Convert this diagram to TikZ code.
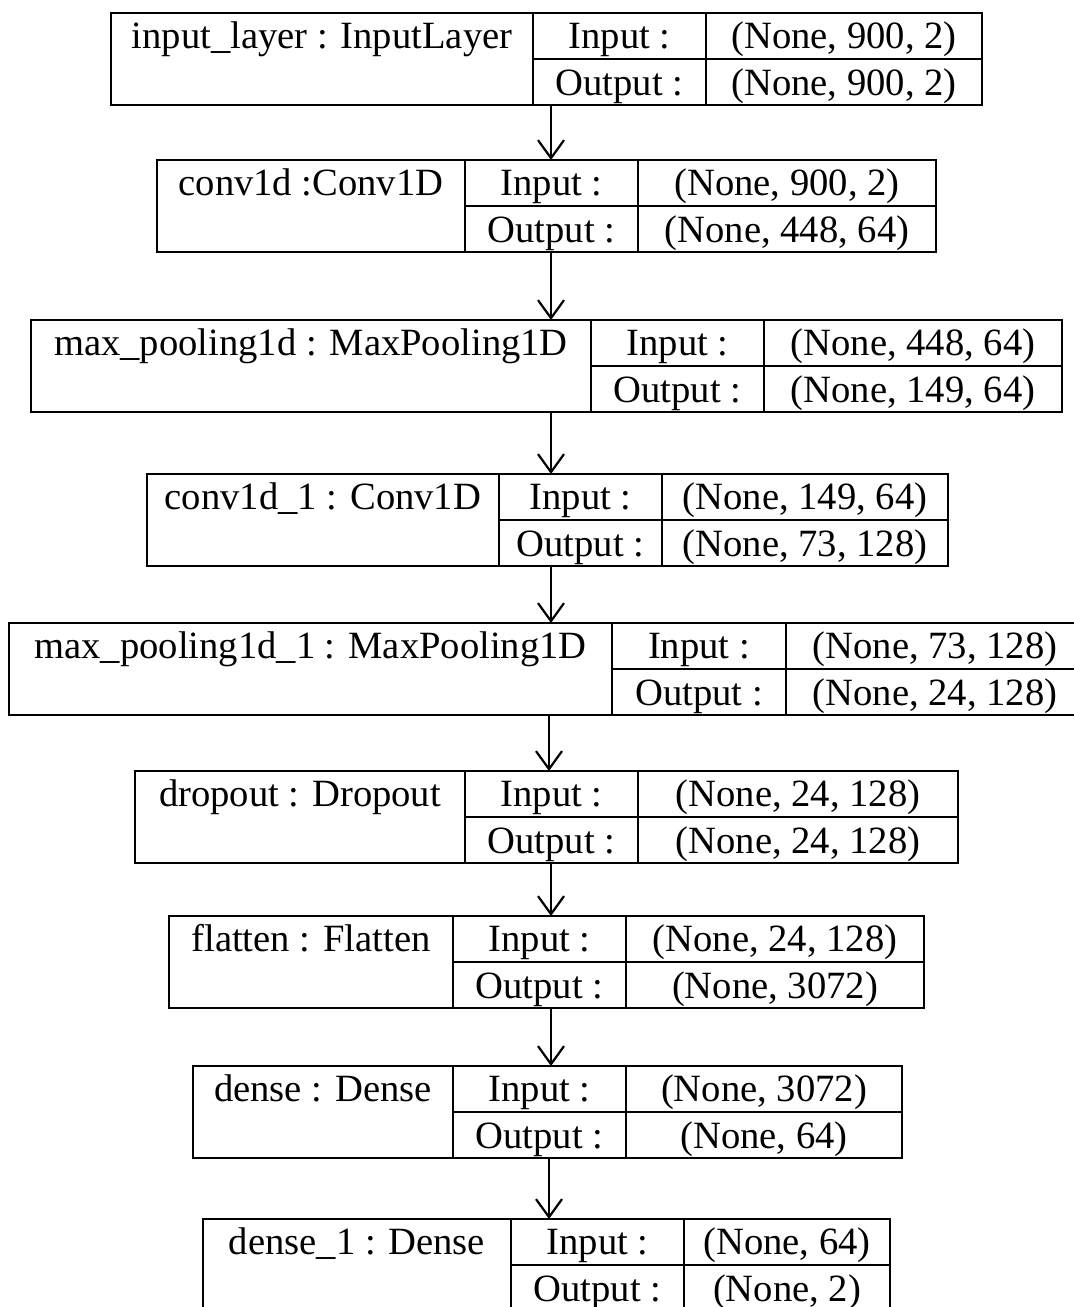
\documentclass[tikz,border=0pt]{standalone}
\usepackage{fontspec}
\setmainfont{Liberation Serif}
\usetikzlibrary{arrows.meta}

% one layer of the model: name, top, left, split1, split2, right, label, input, output
\newcommand{\layerbox}[9]{%
\node[layer, minimum width={(#6-#3)*0.5pt}, anchor=north west] (#1) at (#3,#2) {};
\draw (#4,#2) -- (#4,#2+92) (#5,#2) -- (#5,#2+92) (#4,#2+46) -- (#6,#2+46);
\node[lbl] (#1-name) at ({(#3+#4)/2},#2+35) {#7};
\node[lbl] (#1-inkey) at ({(#4+#5)/2},#2+35) {Input :};
\node[lbl] (#1-outkey) at ({(#4+#5)/2},#2+82) {Output :};
\node[lbl] (#1-in) at ({(#5+#6)/2},#2+35) {#8};
\node[lbl] (#1-out) at ({(#5+#6)/2},#2+82) {#9};
}

\begin{document}
\begin{tikzpicture}[x=0.5pt,y=-0.5pt,line width=1pt,
  >={Straight Barb[length=9pt,width=13pt,line width=1.1pt]},
  layer/.style={draw,rectangle,minimum height=46pt,inner sep=0pt,outer sep=0pt},
  lbl/.style={anchor=base,inner sep=0pt,font=\fontsize{19.3}{23}\selectfont}]
\useasboundingbox (0,0) rectangle (1073,1307);
\layerbox{input}{13}{111}{533}{706}{982}{input\_layer : InputLayer}{(None, 900, 2)}{(None, 900, 2)}
\layerbox{conv}{160}{157}{465}{638}{936}{conv1d :Conv1D}{(None, 900, 2)}{(None, 448, 64)}
\layerbox{pool}{320}{31}{591}{764}{1062}{max\_pooling1d : MaxPooling1D}{(None, 448, 64)}{(None, 149, 64)}
\layerbox{convb}{474}{147}{499}{662}{948}{conv1d\_1 : Conv1D}{(None, 149, 64)}{(None, 73, 128)}
\layerbox{poolb}{623}{9}{612}{786}{1084}{max\_pooling1d\_1 : MaxPooling1D}{(None, 73, 128)}{(None, 24, 128)}
\layerbox{drop}{771}{135}{465}{638}{958}{dropout : Dropout}{(None, 24, 128)}{(None, 24, 128)}
\layerbox{flat}{916}{169}{453}{626}{924}{flatten : Flatten}{(None, 24, 128)}{(None, 3072)}
\layerbox{dense}{1066}{193}{453}{626}{902}{dense : Dense}{(None, 3072)}{(None, 64)}
\layerbox{denseb}{1219}{203}{511}{684}{890}{dense\_1 : Dense}{(None, 64)}{(None, 2)}
\coordinate (ax) at (551,0);
\coordinate (bx) at (549,0);
\draw[->,line width=1.1pt] (input.south -| ax) -- (conv.north -| ax);
\draw[->,line width=1.1pt] (conv.south -| ax) -- (pool.north -| ax);
\draw[->,line width=1.1pt] (pool.south -| ax) -- (convb.north -| ax);
\draw[->,line width=1.1pt] (convb.south -| ax) -- (poolb.north -| ax);
\draw[->,line width=1.1pt] (poolb.south -| bx) -- (drop.north -| bx);
\draw[->,line width=1.1pt] (drop.south -| ax) -- (flat.north -| ax);
\draw[->,line width=1.1pt] (flat.south -| ax) -- (dense.north -| ax);
\draw[->,line width=1.1pt] (dense.south -| bx) -- (denseb.north -| bx);
\end{tikzpicture}
\end{document}
